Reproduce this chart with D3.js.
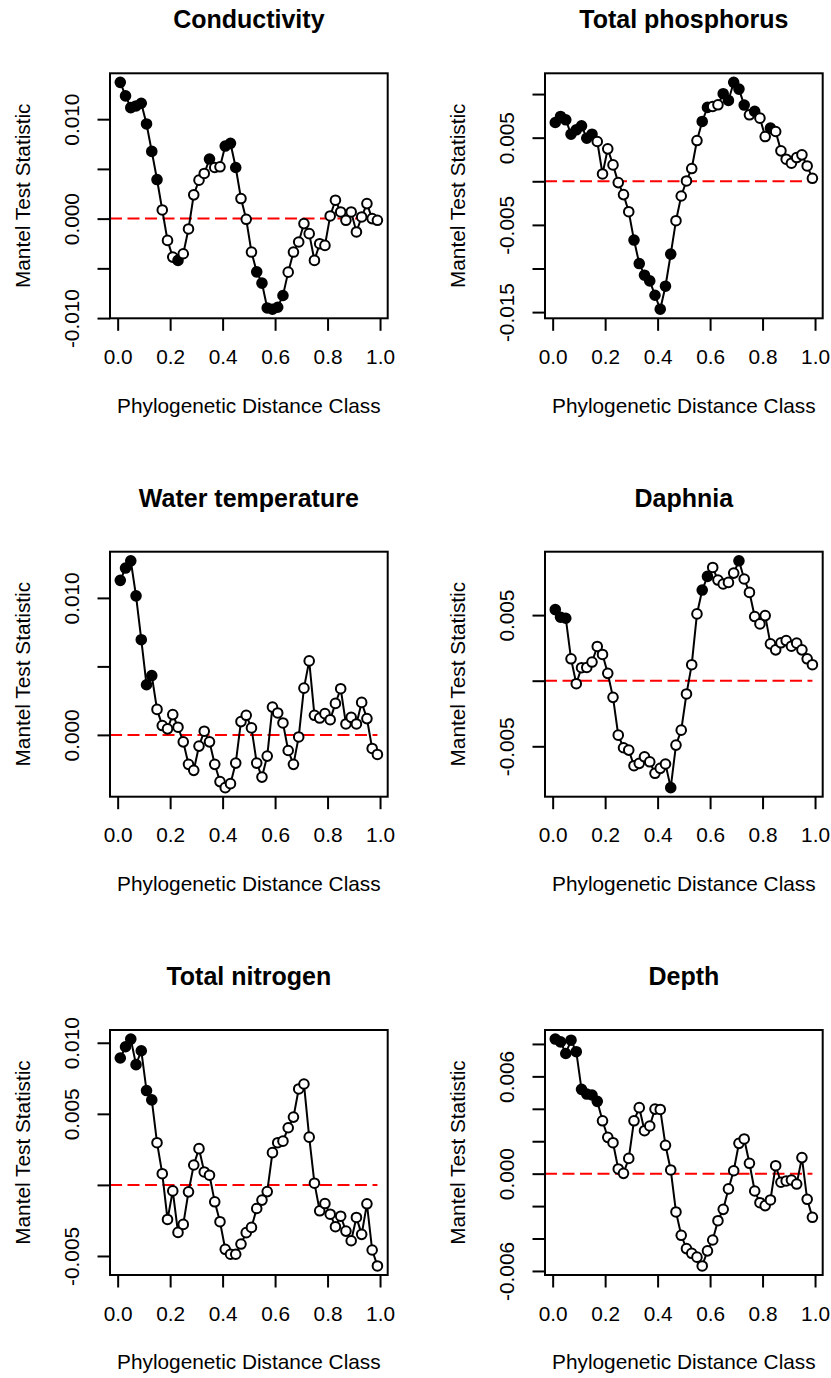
<!DOCTYPE html>
<html>
<head>
<meta charset="utf-8">
<script src="https://cdn.jsdelivr.net/npm/d3@7"></script>
<style>
  body { margin: 0; background: #fff; }
  svg { display: block; font-family: "Liberation Sans", Arial, Helvetica, sans-serif; }
</style>
</head>
<body>
<script>
// Phylogenetic distance classes (x axis)
const distance_class = [
  0.01, 0.03, 0.05, 0.07, 0.09, 0.11, 0.13, 0.15, 0.17, 0.19,
  0.21, 0.23, 0.25, 0.27, 0.29, 0.31, 0.33, 0.35, 0.37, 0.39,
  0.41, 0.43, 0.45, 0.47, 0.49, 0.51, 0.53, 0.55, 0.57, 0.59,
  0.61, 0.63, 0.65, 0.67, 0.69, 0.71, 0.73, 0.75, 0.77, 0.79,
  0.81, 0.83, 0.85, 0.87, 0.89, 0.91, 0.93, 0.95, 0.97, 0.99
];
const x_ticks = [0, 0.2, 0.4, 0.6, 0.8, 1.0];

// Mantel test statistic per distance class
const conductivity = [
  0.0137, 0.01234, 0.01116, 0.01133, 0.0116, 0.00952, 0.00676, 0.00393, 0.00087, -0.00219,
  -0.00387, -0.0042, -0.00353, -0.00104, 0.00239, 0.00387, 0.00454, 0.00599, 0.00514, 0.00521,
  0.0073, 0.00757, 0.00514, 0.00202, -0.00007, -0.00336, -0.00535, -0.00649, -0.00898, -0.00911,
  -0.00891, -0.00773, -0.00538, -0.00336, -0.00235, -0.0005, -0.00151, -0.0042, -0.00252, -0.00269,
  0.00027, 0.00185, 0.00067, -0.00017, 0.00067, -0.00134, 0.00017, 0.00151, 0.0, -0.00017
];
const phosphorus = [
  0.00674, 0.00743, 0.00705, 0.0054, 0.0059, 0.00636, 0.00494, 0.0054, 0.00456, 0.00084,
  0.00372, 0.00188, -0.00015, -0.00153, -0.00349, -0.00674, -0.00943, -0.01077, -0.01142, -0.01307,
  -0.01467, -0.01203, -0.00835, -0.00452, -0.00169, 0.00004, 0.00146, 0.00467, 0.00686, 0.00847,
  0.00858, 0.00877, 0.01004, 0.00927, 0.01134, 0.01057, 0.00874, 0.00762, 0.00801, 0.00724,
  0.00513, 0.00609, 0.00571, 0.00349, 0.00253, 0.00207, 0.00272, 0.00303, 0.00176, 0.00034
];
const water_temp = [
  0.01128, 0.01218, 0.01271, 0.01015, 0.00695, 0.00366, 0.00433, 0.00186, 0.00068, 0.00044,
  0.00148, 0.00056, -0.00051, -0.00215, -0.00259, -0.00082, 0.00027, -0.00051, -0.00215, -0.00341,
  -0.00385, -0.00356, -0.00206, 0.00097, 0.00143, 0.00051, -0.00206, -0.00308, -0.00155, 0.00203,
  0.0016, 0.00087, -0.00114, -0.00215, -0.00015, 0.00341, 0.0054, 0.00143, 0.00123, 0.00155,
  0.00111, 0.0023, 0.00337, 0.0008, 0.00128, 0.0008, 0.00237, 0.00119, -0.00099, -0.00143
];
const daphnia = [
  0.00542, 0.00484, 0.00476, 0.00167, -0.00023, 0.00099, 0.00101, 0.00142, 0.00261, 0.002,
  0.00056, -0.00127, -0.00415, -0.00511, -0.00529, -0.00648, -0.0063, -0.0058, -0.00618, -0.00706,
  -0.00668, -0.00635, -0.00815, -0.00491, -0.00377, -0.00101, 0.00122, 0.00509, 0.00691, 0.00795,
  0.00863, 0.00767, 0.00737, 0.00749, 0.0082, 0.00914, 0.00775, 0.00673, 0.00489, 0.00433,
  0.00496, 0.00281, 0.00235, 0.00289, 0.00306, 0.00263, 0.00286, 0.00235, 0.00167, 0.00122
];
const nitrogen = [
  0.00893, 0.00972, 0.01026, 0.00846, 0.00944, 0.00664, 0.00598, 0.00297, 0.00079, -0.00243,
  -0.00042, -0.00334, -0.00278, -0.00049, 0.0014, 0.00255, 0.00091, 0.00068, -0.00119, -0.00259,
  -0.00453, -0.00488, -0.00488, -0.00416, -0.00336, -0.00299, -0.00166, -0.00107, -0.00047, 0.00227,
  0.00297, 0.00308, 0.00402, 0.00477, 0.00675, 0.0071, 0.00336, 0.00012, -0.00182, -0.00131,
  -0.00206, -0.00294, -0.0022, -0.00325, -0.00393, -0.00229, -0.00348, -0.00133, -0.00458, -0.0057
];
const depth = [
  0.0083, 0.00813, 0.00741, 0.00823, 0.00752, 0.0052, 0.00491, 0.00485, 0.00446, 0.00326,
  0.00224, 0.00191, 0.00029, 0.00002, 0.00094, 0.00326, 0.00407, 0.00265, 0.00294, 0.00398,
  0.00396, 0.00175, 0.00023, -0.00236, -0.0038, -0.00462, -0.00491, -0.00515, -0.00569, -0.00476,
  -0.00409, -0.0029, -0.0022, -0.00094, 0.00018, 0.00187, 0.00214, 0.00064, -0.00107, -0.00179,
  -0.00197, -0.00162, 0.00049, -0.00053, -0.00045, -0.00039, -0.00064, 0.00099, -0.00158, -0.00269
];

// Significant classes (1-based), drawn as filled points
const conductivity_sig = [1, 2, 3, 4, 5, 6, 7, 8, 12, 18, 21, 22, 23, 27, 28, 29, 30, 31, 32];
const phosphorus_sig = [1, 2, 3, 4, 5, 6, 7, 8, 16, 17, 18, 19, 20, 21, 22, 23, 29, 30, 33, 34, 35, 36, 37, 39, 42];
const water_temp_sig = [1, 2, 3, 4, 5, 6, 7];
const daphnia_sig = [1, 2, 3, 23, 29, 30, 36];
const nitrogen_sig = [1, 2, 3, 4, 5, 6, 7];
const depth_sig = [1, 2, 3, 4, 5, 6, 7, 8, 9];

// Y ticks and their labels ("" = tick without label)
const conductivity_ticks = [-0.010, -0.005, 0.000, 0.005, 0.010];
const conductivity_labels = ["-0.010", "", "0.000", "", "0.010"];
const phosphorus_ticks = [-0.015, -0.010, -0.005, 0.000, 0.005, 0.010];
const phosphorus_labels = ["-0.015", "", "-0.005", "", "0.005", ""];
const water_temp_ticks = [0.000, 0.005, 0.010];
const water_temp_labels = ["0.000", "", "0.010"];
const daphnia_ticks = [-0.005, 0.000, 0.005];
const daphnia_labels = ["-0.005", "", "0.005"];
const nitrogen_ticks = [-0.005, 0.000, 0.005, 0.010];
const nitrogen_labels = ["-0.005", "", "0.005", "0.010"];
const depth_ticks = [-0.006, -0.004, -0.002, 0.000, 0.002, 0.004, 0.006, 0.008];
const depth_labels = ["-0.006", "", "", "0.000", "", "", "0.006", ""];

const titles = ["Conductivity", "Total phosphorus", "Water temperature", "Daphnia", "Total nitrogen", "Depth"];

const panels = [
  { values: conductivity, sig: conductivity_sig, ticks: conductivity_ticks, labels: conductivity_labels },
  { values: phosphorus, sig: phosphorus_sig, ticks: phosphorus_ticks, labels: phosphorus_labels },
  { values: water_temp, sig: water_temp_sig, ticks: water_temp_ticks, labels: water_temp_labels },
  { values: daphnia, sig: daphnia_sig, ticks: daphnia_ticks, labels: daphnia_labels },
  { values: nitrogen, sig: nitrogen_sig, ticks: nitrogen_ticks, labels: nitrogen_labels },
  { values: depth, sig: depth_sig, ticks: depth_ticks, labels: depth_labels },
];

const WIDTH = 831;
const HEIGHT = 1378;
const BOX_W = 277.7;
const BOX_H = 245;
const COL_X = [110, 545];
const ROW_Y = [73.3, 551.7, 1030];
const FONT = 20.8;
const TICK = 12.5;

let svg = d3.select("body").append("svg").attr("width", WIDTH).attr("height", HEIGHT);

// R-style axis range: data extent padded by 4% on each side
function pad_extent(arr) {
  let [lo, hi] = d3.extent(arr);
  let pad = (hi - lo) * 0.04;
  return [lo - pad, hi + pad];
}

function draw_panel(panel, title, left, top) {
  let g = svg.append("g");
  let x = d3.scaleLinear().domain(pad_extent(distance_class)).range([left, left + BOX_W]);
  let y = d3.scaleLinear().domain(pad_extent(panel.values)).range([top + BOX_H, top]);

  // Reference line at zero
  g.append("line")
    .attr("x1", x.range()[0])
    .attr("x2", x(distance_class[distance_class.length - 1]))
    .attr("y1", y(0))
    .attr("y2", y(0))
    .style("stroke", "#ff0000")
    .style("stroke-width", 2)
    .style("stroke-dasharray", "12,5.5");

  // Connecting line
  let pts = distance_class.map((d, i) => [d, panel.values[i], panel.sig.includes(i + 1)]);
  g.append("path")
    .datum(pts)
    .attr("d", d3.line().x((d) => x(d[0])).y((d) => y(d[1])))
    .style("fill", "none")
    .style("stroke", "#000")
    .style("stroke-width", 2);

  g.selectAll("circle")
    .data(pts)
    .join("circle")
    .attr("cx", (d) => x(d[0]))
    .attr("cy", (d) => y(d[1]))
    .attr("r", 4.8)
    .style("fill", (d) => (d[2] ? "#000" : "#fff"))
    .style("stroke", "#000")
    .style("stroke-width", 2);

  // Box
  g.append("rect")
    .attr("x", left)
    .attr("y", top)
    .attr("width", BOX_W)
    .attr("height", BOX_H)
    .style("fill", "none")
    .style("stroke", "#000")
    .style("stroke-width", 2);

  // X axis
  let x_axis = g.append("g")
    .attr("transform", `translate(0,${top + BOX_H})`)
    .call(d3.axisBottom(x).tickValues(x_ticks).tickSize(TICK).tickFormat(d3.format(".1f")));
  x_axis.select(".domain").remove();
  x_axis.selectAll("line").style("stroke-width", 2);
  x_axis.selectAll("text")
    .attr("y", 45.7)
    .attr("dy", null)
    .style("font-size", FONT + "px")
    .style("fill", "#000");

  // Y axis
  let y_axis = g.append("g")
    .attr("transform", `translate(${left},0)`)
    .call(d3.axisLeft(y).tickValues(panel.ticks).tickSize(TICK)
      .tickFormat((d, i) => panel.labels[i]));
  y_axis.select(".domain").remove();
  y_axis.selectAll("line").style("stroke-width", 2);
  y_axis.selectAll("text")
    .attr("x", 0)
    .attr("y", 0)
    .attr("dy", null)
    .attr("text-anchor", "middle")
    .attr("transform", "translate(-31,0) rotate(-90)")
    .style("font-size", FONT + "px")
    .style("fill", "#000");

  // Titles
  g.append("text")
    .attr("x", left + BOX_W / 2)
    .attr("y", top - 45)
    .attr("text-anchor", "middle")
    .style("font-size", "25px")
    .style("font-weight", "bold")
    .text(title);

  g.append("text")
    .attr("x", left + BOX_W / 2)
    .attr("y", top + BOX_H + 94.4)
    .attr("text-anchor", "middle")
    .style("font-size", FONT + "px")
    .text("Phylogenetic Distance Class");

  g.append("text")
    .attr("transform", `translate(${left - 80},${top + BOX_H / 2}) rotate(-90)`)
    .attr("text-anchor", "middle")
    .style("font-size", FONT + "px")
    .text("Mantel Test Statistic");
}

panels.forEach((panel, i) => {
  draw_panel(panel, titles[i], COL_X[i % 2], ROW_Y[Math.floor(i / 2)]);
});
</script>
</body>
</html>
